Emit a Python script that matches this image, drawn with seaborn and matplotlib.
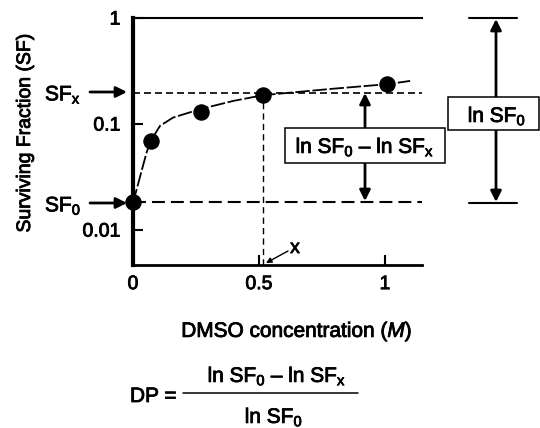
import numpy as np
import pandas as pd
import matplotlib
matplotlib.use("Agg")
import matplotlib.pyplot as plt
import seaborn as sns
from matplotlib.patches import Rectangle
from matplotlib.lines import Line2D
from matplotlib.ticker import NullLocator
from matplotlib.text import Text
import matplotlib.patheffects as pe

# ---- data ----
conc = [0.0, 0.07, 0.27, 0.516, 1.01]
surv = [0.0183, 0.069, 0.129, 0.187, 0.236]
fit_x = [0.0, 0.034, 0.054, 0.07, 0.107, 0.159, 0.266, 0.397, 0.516, 0.782, 1.012, 1.1]
fit_y = [0.018, 0.036, 0.054, 0.069, 0.096, 0.115, 0.138, 0.165, 0.187, 0.214, 0.238, 0.255]
sf0 = 0.0183
sfx = 0.195
x_conc = 0.516
xticks = [0, 0.5, 1]
xticklabels = ["0", "0.5", "1"]
yticks = [0.01, 0.1, 1]
yticklabels = ["0.01", "0.1", "1"]

sns.set_theme(style="ticks")
plt.rcParams['font.family'] = ['Liberation Sans', 'DejaVu Sans']
plt.rcParams['mathtext.fontset'] = 'custom'
plt.rcParams['mathtext.rm'] = 'Liberation Sans'
plt.rcParams['mathtext.it'] = 'Liberation Sans:italic'
plt.rcParams['mathtext.bf'] = 'Liberation Sans:bold'
plt.rcParams['text.color'] = 'black'

W, H = 540, 428
fig = plt.figure(figsize=(W / 100, H / 100), dpi=100)
fig.patch.set_facecolor('white')
ax = fig.add_axes([133 / W, 1 - 265 / H, (422 - 133) / W, (265 - 18) / H])

df_pts = pd.DataFrame({"conc": conc, "surv": surv})
df_fit = pd.DataFrame({"conc": fit_x, "surv": fit_y})

sns.lineplot(data=df_fit, x="conc", y="surv", ax=ax, color="black",
             lw=1.3, linestyle=(0, (8, 1.5)), zorder=2)
sns.scatterplot(data=df_pts, x="conc", y="surv", ax=ax, s=120,
                color="black", edgecolor="black", zorder=3, clip_on=False)

ax.set_yscale("log")
ax.set_xlim(0, 1.147)
ax.set_ylim(0.00468, 1)
ax.yaxis.set_minor_locator(NullLocator())
ax.set_xticks(xticks)
ax.set_xticklabels(xticklabels)
ax.set_yticks(yticks)
ax.set_yticklabels(yticklabels)

# reference lines
ax.axhline(sfx, color="black", lw=1.2, linestyle=(0, (4.2, 2.4)), zorder=1)
ax.axhline(sf0, color="black", lw=1.5, linestyle=(0, (6.2, 2.9)), zorder=1)
ax.vlines(x_conc, 0.00468, sfx, color="black", lw=1.0, linestyle=(0, (4.5, 3)), zorder=1)

for side in ["top", "left", "bottom"]:
    ax.spines[side].set_color("black")
ax.spines["right"].set_visible(False)
ax.spines["left"].set_linewidth(3)
ax.spines["bottom"].set_linewidth(2)
ax.spines["top"].set_linewidth(1.5)

ax.tick_params(axis="both", direction="in", length=7, width=1.5, colors="black",
               labelsize=14, top=False, right=False)
ax.tick_params(axis="y", pad=9)
ax.tick_params(axis="x", pad=8)

ax.set_xlabel("DMSO concentration ($\\mathit{M}$)", fontsize=15, color="black")
ax.xaxis.set_label_coords((297 - 133) / 289, (265 - 320) / 247)
ax.set_ylabel("Surviving Fraction (SF)", fontsize=14, color="black")
ax.yaxis.set_label_coords((34 - 133) / 289, (265 - 132.5) / 247)

# ---- annotations in figure pixels (top-left origin) ----
def P(x, y):
    return (x, H - y)

def arrow(x0, y0, x1, y1, lw=2, ms=16):
    ax.annotate("", xy=P(x1, y1), xycoords="figure pixels",
                xytext=P(x0, y0), textcoords="figure pixels",
                arrowprops=dict(arrowstyle="-|>", color="black", lw=lw,
                                shrinkA=0, shrinkB=0, mutation_scale=ms),
                annotation_clip=False)

def hline(x0, x1, y, lw=1.5):
    fig.add_artist(Line2D([x0 / W, x1 / W], [1 - y / H, 1 - y / H],
                          transform=fig.transFigure, color="black", lw=lw))

def box(x0, y0, x1, y1):
    fig.add_artist(Rectangle((x0 / W, 1 - y1 / H), (x1 - x0) / W, (y1 - y0) / H,
                             transform=fig.transFigure, facecolor="white",
                             edgecolor="black", lw=1.1, zorder=5))

def ftext(x, y, s, size=15, ha="center", va="baseline"):
    fig.text(x / W, 1 - y / H, s, fontsize=size, ha=ha, va=va, color="black", zorder=6)

# left labels with arrows
ftext(45, 95, "SF$_\\mathrm{x}$", ha="left", va="center")
arrow(90, 92, 127, 92)
ftext(45, 206, "SF$_\\mathrm{0}$", ha="left", va="center")
arrow(90, 203, 127, 203)

# middle arrows and box
arrow(365, 128, 365, 93)
arrow(365, 163, 365, 201)
box(285, 128, 445, 163)
ftext(365, 153, "ln SF$_\\mathrm{0}$ \u2013 ln SF$_\\mathrm{x}$")

# right bracket
hline(469, 517, 18)
hline(469, 517, 203)
arrow(496, 97, 496, 19)
arrow(496, 130, 496, 202)
box(448, 97, 539, 130)
ftext(497, 122, "ln SF$_\\mathrm{0}$")

# x marker
ftext(295, 253, "x", size=14)
arrow(288, 251, 266, 263, lw=1, ms=8)

# formula
ftext(130, 402, "DP =", ha="left")
fig.add_artist(Line2D([183 / W, 358 / W], [1 - 393 / H, 1 - 393 / H],
                      transform=fig.transFigure, color="black", lw=1.1))
ftext(277, 382, "ln SF$_\\mathrm{0}$ \u2013 ln SF$_\\mathrm{x}$")
ftext(274, 423, "ln SF$_\\mathrm{0}$")

# slightly heavier text strokes, like the reference rendering
for t in fig.findobj(Text):
    t.set_path_effects([pe.withStroke(linewidth=0.6, foreground="black")])

fig.savefig("out.png", dpi=100, facecolor="white")
